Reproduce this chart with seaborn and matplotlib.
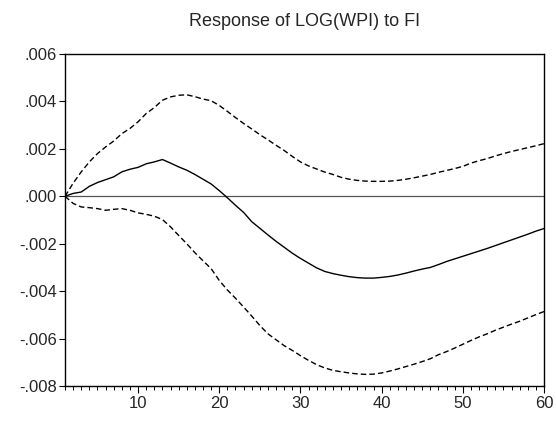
import numpy as np
import pandas as pd
import matplotlib
matplotlib.use("Agg")
import matplotlib.pyplot as plt
import matplotlib.ticker as mticker
import seaborn as sns

periods = list(range(1, 61))

response = [0.00, 0.12, 0.18, 0.42, 0.58, 0.70, 0.82, 1.03, 1.14, 1.22,
            1.37, 1.45, 1.55, 1.40, 1.24, 1.10, 0.92, 0.72, 0.52, 0.24,
            -0.06, -0.38, -0.68, -1.07, -1.35, -1.63, -1.90, -2.15, -2.40, -2.62,
            -2.82, -3.02, -3.17, -3.26, -3.33, -3.39, -3.43, -3.45, -3.45, -3.42,
            -3.38, -3.32, -3.24, -3.15, -3.07, -3.00, -2.88, -2.75, -2.64, -2.53,
            -2.42, -2.31, -2.20, -2.08, -1.96, -1.84, -1.72, -1.60, -1.47, -1.36]

upper = [0.00, 0.55, 1.03, 1.45, 1.80, 2.08, 2.33, 2.64, 2.86, 3.14,
         3.49, 3.74, 4.05, 4.19, 4.26, 4.28, 4.20, 4.10, 4.03, 3.83,
         3.58, 3.32, 3.07, 2.84, 2.60, 2.38, 2.15, 1.93, 1.68, 1.45,
         1.28, 1.15, 1.02, 0.92, 0.80, 0.72, 0.67, 0.64, 0.63, 0.63,
         0.64, 0.67, 0.72, 0.78, 0.85, 0.92, 1.01, 1.09, 1.17, 1.26,
         1.40, 1.50, 1.59, 1.70, 1.80, 1.89, 1.97, 2.05, 2.13, 2.22]

lower = [0.00, -0.30, -0.45, -0.48, -0.52, -0.59, -0.55, -0.52, -0.59, -0.70,
         -0.76, -0.84, -0.98, -1.29, -1.65, -2.00, -2.38, -2.72, -3.05, -3.55,
         -3.95, -4.30, -4.67, -5.05, -5.45, -5.80, -6.05, -6.30, -6.50, -6.72,
         -6.92, -7.10, -7.24, -7.34, -7.40, -7.45, -7.49, -7.51, -7.50, -7.45,
         -7.37, -7.28, -7.18, -7.08, -6.97, -6.85, -6.68, -6.55, -6.40, -6.24,
         -6.08, -5.93, -5.80, -5.65, -5.52, -5.39, -5.27, -5.13, -4.99, -4.86]

title = "Response of LOG(WPI) to FI"
yticks = [-0.008, -0.006, -0.004, -0.002, 0.000, 0.002, 0.004, 0.006]
xticks = [10, 20, 30, 40, 50, 60]

df = pd.DataFrame({
    "period": periods * 3,
    "value": [v / 1000 for v in response + upper + lower],
    "series": ["response"] * 60 + ["upper"] * 60 + ["lower"] * 60,
})

sns.set_style("white")
plt.rcParams["font.family"] = ["Liberation Sans", "DejaVu Sans"]

fig = plt.figure(figsize=(5.56, 4.21), dpi=100)
ax = fig.add_axes([65 / 556, 1 - 386 / 421, (544 - 65) / 556, (386 - 54) / 421])

sns.lineplot(data=df, x="period", y="value", hue="series", style="series",
             palette={"response": "black", "upper": "black", "lower": "black"},
             dashes={"response": "", "upper": (4, 2.2), "lower": (4, 2.2)},
             linewidth=1.0, legend=False, ax=ax)

ax.axhline(0, color="#555555", linewidth=0.9, zorder=0)

ax.set_xlim(1, 60)
ax.set_ylim(-0.008, 0.006)
ax.set_yticks(yticks)
ax.yaxis.set_major_formatter(mticker.FuncFormatter(
    lambda v, p: ("-" if v < -1e-12 else "") + ("%.3f" % abs(v))[1:]))
ax.set_xticks(xticks)
ax.xaxis.set_minor_locator(mticker.MultipleLocator(1))
ax.tick_params(axis="both", which="major", direction="out", length=4,
               width=0.8, color="black", labelsize=12, pad=2,
               bottom=True, left=True, top=False, right=False)
ax.tick_params(axis="x", which="minor", direction="out", length=3,
               width=0.7, color="black", bottom=True, top=False)
ax.tick_params(axis="x", which="major", length=5)
for s in ax.spines.values():
    s.set_color("black")
    s.set_linewidth(1.0)
ax.set_xlabel("")
ax.set_ylabel("")
ax.set_title(title, fontsize=13, pad=20)

fig.savefig("out.png", dpi=100)
